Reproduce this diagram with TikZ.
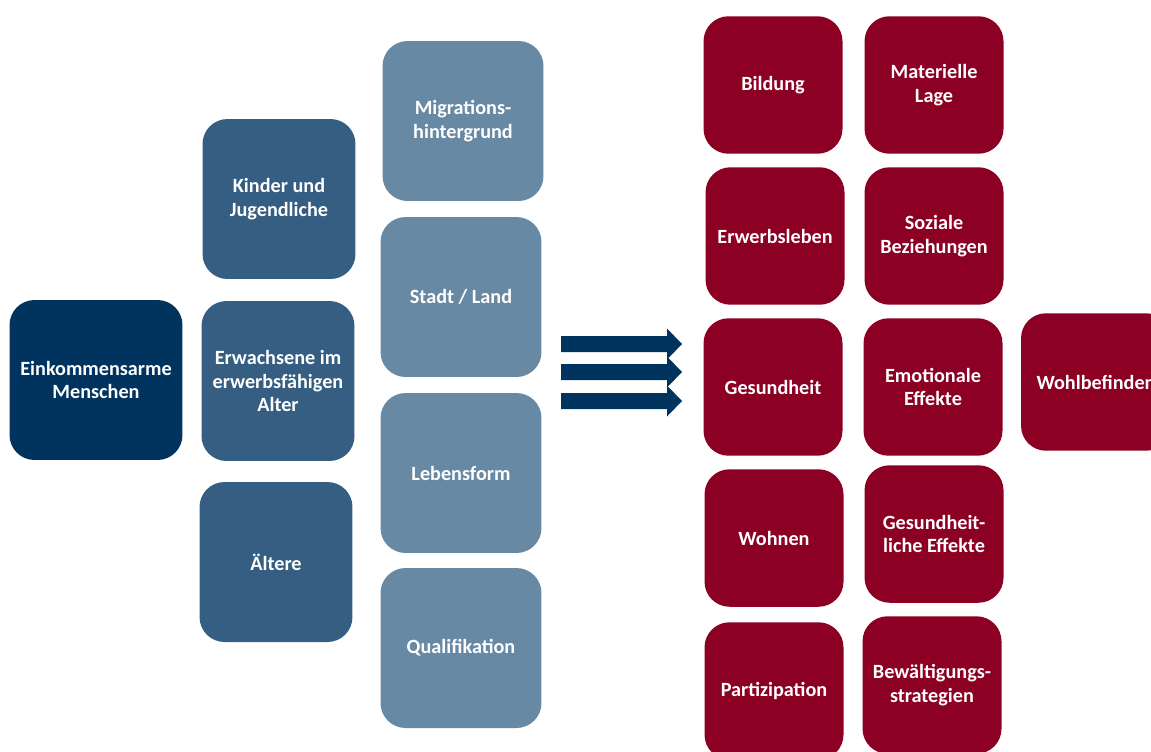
\documentclass[tikz,border=0pt]{standalone}
\usepackage{fontspec}
\setmainfont{Carlito}

\definecolor{navy}{RGB}{0,52,95}
\definecolor{midblue}{RGB}{53,94,130}
\definecolor{lightblue}{RGB}{104,137,163}
\definecolor{winered}{RGB}{140,0,35}

\begin{document}
\begin{tikzpicture}[x=0.02cm,y=-0.02cm,
  box/.style={rounded corners=0.5cm, text=white, align=center, inner sep=0pt,
    font=\bfseries\fontsize{11.5}{13.6}\selectfont},
  groupbox/.style={box, fill=navy, minimum width=3.46cm, minimum height=3.2cm},
  agebox/.style={box, fill=midblue, minimum width=3.06cm, minimum height=3.2cm},
  factorbox/.style={box, fill=lightblue, minimum width=3.22cm, minimum height=3.2cm},
  effectbox/.style={box, fill=winered, minimum width=2.78cm, minimum height=2.75cm}]
  \useasboundingbox (0,0) rectangle (1151,751);
  \clip (0,0) rectangle (1151,751);

  % target group
  \node (arme) [groupbox] at (96,380) {Einkommensarme\\Menschen};

  % age groups
  \node (kinder) [agebox] at (279,199) {Kinder und\\Jugendliche};
  \node (erwachsene) [agebox] at (278,381) {Erwachsene im\\erwerbsf\"ahigen\\Alter};
  \node (aeltere) [agebox] at (276,562) {\"Altere};

  % further factors
  \node (migration) [factorbox] at (463,121) {Migrations-\\hintergrund};
  \node (stadt) [factorbox] at (461,297) {Stadt / Land};
  \node (lebensform) [factorbox] at (461,473) {Lebensform};
  \node (qualifikation) [factorbox] at (461,648) {Qualifikation};

  % arrows
  \foreach \y in {344,372,401}
    \fill [navy] (561,\y-8) -- (667,\y-8) -- (667,\y-15.5) -- (682,\y)
      -- (667,\y+15.5) -- (667,\y+8) -- (561,\y+8) -- cycle;

  % effects
  \node (bildung) [effectbox] at (773,85) {Bildung};
  \node (erwerb) [effectbox] at (775,236) {Erwerbsleben};
  \node (gesundheit) [effectbox] at (773,387) {Gesundheit};
  \node (wohnen) [effectbox] at (774,538) {Wohnen};
  \node (partizipation) [effectbox] at (774,691) {Partizipation};

  \node (lage) [effectbox] at (934,85) {Materielle\\Lage};
  \node (sozial) [effectbox] at (934,236) {Soziale\\Beziehungen};
  \node (emotional) [effectbox] at (933,387) {Emotionale\\Effekte};
  \node (gesundeffekte) [effectbox] at (934,534) {Gesundheit-\\liche Effekte};
  \node (bewaeltigung) [effectbox] at (932,685) {Bew\"altigungs-\\strategien};

  \node (wohlbefinden) [effectbox, minimum width=3.0cm] at (1096,382) {Wohlbefinden};

\end{tikzpicture}
\end{document}
